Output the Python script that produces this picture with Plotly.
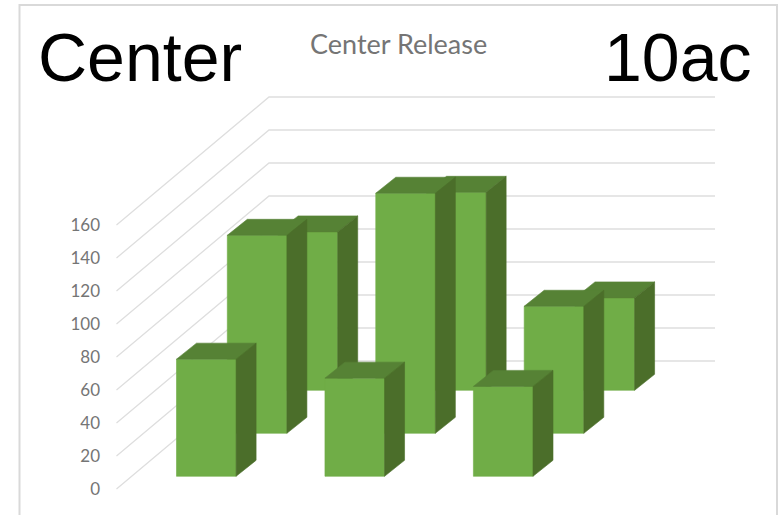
import plotly.graph_objects as go

# Bar heights: one list per depth row, front row first, one value per group
front_row = [71, 59.5, 54.5]
middle_row = [120, 145.5, 77]
back_row = [96, 120, 56]
rows = [front_row, middle_row, back_row]
value_ticks = [0, 20, 40, 60, 80, 100, 120, 140, 160]

WIDTH, HEIGHT = 781, 515
MARGIN_LEFT = 108
PX_PER_VALUE = 1.65
PX_PER_GROUP = 148.45
ZERO_PX = 489.0          # pixel height of value 0 on the front axis
FIRST_BAR_PX = 176.5     # left edge of the first front bar

# Oblique projection, expressed in axis units
BAR_WIDTH = 59.6 / PX_PER_GROUP
BAR_DEPTH_X = 20.0 / PX_PER_GROUP
BAR_DEPTH_Y = 16.0 / PX_PER_VALUE
ROW_STEP_X = 50.8 / PX_PER_GROUP
ROW_STEP_Y = 43.0 / PX_PER_VALUE
FLOOR_LIFT = 12.7 / PX_PER_VALUE   # first row stands slightly behind the axis
WALL_LEFT = (116.5 - FIRST_BAR_PX) / PX_PER_GROUP
WALL_X = (269.0 - FIRST_BAR_PX) / PX_PER_GROUP
WALL_RIGHT = (715.0 - FIRST_BAR_PX) / PX_PER_GROUP
WALL_Y = 128.0 / PX_PER_VALUE

GRID = "#dedede"
FACE = "#70ad47"
TOP = "#568235"
SIDE = "#4b6e2a"
GREY_TEXT = "#757575"


def polygon(xs, ys, color):
    return go.Scatter(
        x=xs + xs[:1], y=ys + ys[:1], mode="lines", fill="toself",
        fillcolor=color, line=dict(color=color, width=0.6),
        hoverinfo="skip", showlegend=False,
    )


def bar_traces(group, row, value):
    x0 = group + row * ROW_STEP_X
    x1 = x0 + BAR_WIDTH
    y0 = FLOOR_LIFT + row * ROW_STEP_Y
    y1 = y0 + value
    dx, dy = BAR_DEPTH_X, BAR_DEPTH_Y
    return [
        polygon([x0, x1, x1, x0], [y0, y0, y1, y1], FACE),
        polygon([x0, x1, x1 + dx, x0 + dx], [y1, y1, y1 + dy, y1 + dy], TOP),
        polygon([x1, x1 + dx, x1 + dx, x1], [y0, y0 + dy, y1 + dy, y1], SIDE),
    ]


fig = go.Figure()

# Floor-to-wall diagonals and the horizontal lines on the back wall
for tick in value_ticks:
    fig.add_trace(go.Scatter(
        x=[WALL_LEFT, WALL_X, WALL_RIGHT],
        y=[tick, tick + WALL_Y, tick + WALL_Y],
        mode="lines", line=dict(color=GRID, width=1.3),
        hoverinfo="skip", showlegend=False,
    ))

# Painter's order: far rows first so nearer bars cover them
for row in reversed(range(len(rows))):
    for group, value in enumerate(rows[row]):
        for trace in bar_traces(group, row, value):
            fig.add_trace(trace)


def paper_x(px):
    return (px - MARGIN_LEFT) / (WIDTH - MARGIN_LEFT)


def paper_y(px):
    return 1 - px / HEIGHT


fig.update_layout(
    width=WIDTH, height=HEIGHT,
    margin=dict(l=MARGIN_LEFT, r=0, t=0, b=0),
    paper_bgcolor="white", plot_bgcolor="white",
    xaxis=dict(
        range=[(MARGIN_LEFT - FIRST_BAR_PX) / PX_PER_GROUP,
               (WIDTH - FIRST_BAR_PX) / PX_PER_GROUP],
        visible=False, fixedrange=True,
    ),
    yaxis=dict(
        range=[(ZERO_PX - HEIGHT) / PX_PER_VALUE, ZERO_PX / PX_PER_VALUE],
        tickvals=value_ticks, ticks="", showgrid=False, zeroline=False,
        showline=False, fixedrange=True, ticklabelstandoff=7,
        tickfont=dict(family="Lato", size=17, color=GREY_TEXT),
    ),
    shapes=[
        dict(
            type="path", xref="paper", yref="paper",
            path=(f"M {paper_x(19.5)} {paper_y(520)} L {paper_x(19.5)} {paper_y(5)} "
                  f"L {paper_x(777)} {paper_y(5)} L {paper_x(777)} {paper_y(520)}"),
            line=dict(color="#d9d9d9", width=2),
        )
    ],
    annotations=[
        dict(text="Center", xref="paper", yref="paper",
             x=paper_x(36), y=paper_y(57), xanchor="left", yanchor="middle",
             showarrow=False, font=dict(family="Liberation Sans", size=68, color="black")),
        dict(text="10ac", xref="paper", yref="paper",
             x=paper_x(753), y=paper_y(57), xanchor="right", yanchor="middle",
             showarrow=False, font=dict(family="Liberation Sans", size=68, color="black")),
        dict(text="Center Release", xref="paper", yref="paper",
             x=paper_x(398), y=paper_y(44), xanchor="center", yanchor="middle",
             showarrow=False, font=dict(family="Lato", size=27, color=GREY_TEXT)),
    ],
)

fig.write_html("out.html", config={"displayModeBar": False})
